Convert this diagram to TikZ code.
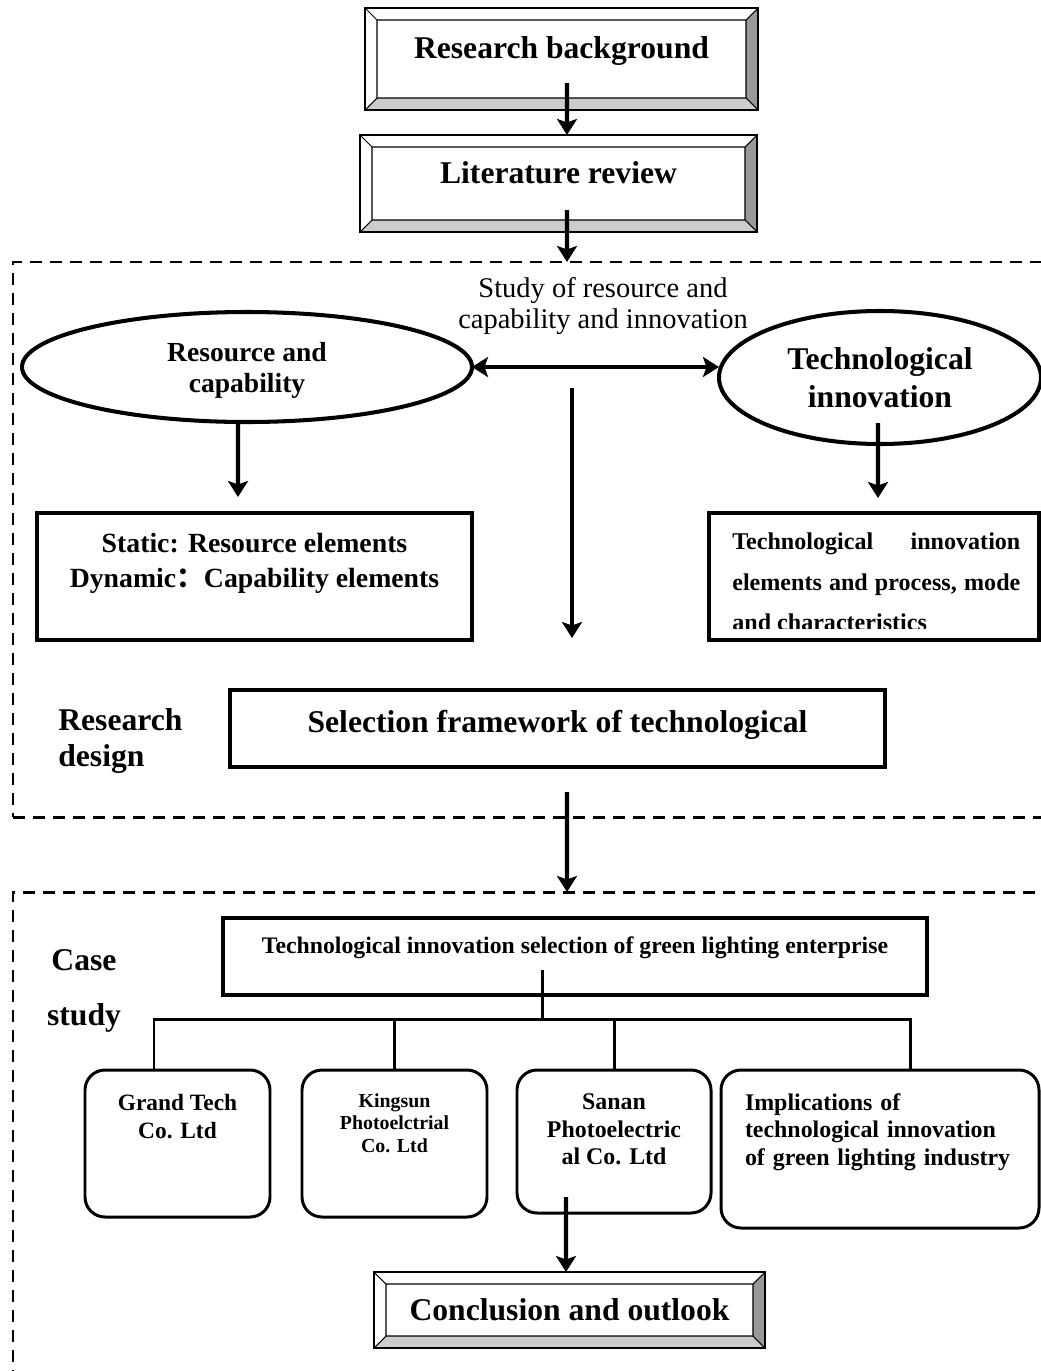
\documentclass[tikz,border=0pt]{standalone}
\usepackage{fontspec}
\setmainfont{Liberation Serif}
\newfontfamily\cjk{Noto Sans CJK SC}
\usepackage{tikz}
\usetikzlibrary{arrows.meta,positioning,shapes.geometric}

\definecolor{bevdark}{HTML}{999999}
\definecolor{bevlight}{HTML}{CCCCCC}
\newcommand{\bevw}{0.24}
\newcommand{\bevelparts}[1]{%
  \fill[bevdark] (#1.north east) -- (#1.south east) -- ([shift={(-\bevw,\bevw)}]#1.south east) -- ([shift={(-\bevw,-\bevw)}]#1.north east) -- cycle;
  \fill[bevlight] (#1.south east) -- (#1.south west) -- ([shift={(\bevw,\bevw)}]#1.south west) -- ([shift={(-\bevw,\bevw)}]#1.south east) -- cycle;
  \draw[line width=0.6pt] ([shift={(\bevw,-\bevw)}]#1.north west) rectangle ([shift={(-\bevw,\bevw)}]#1.south east)
    (#1.north west) -- ++(\bevw,-\bevw) (#1.north east) -- ++(-\bevw,-\bevw)
    (#1.south east) -- ++(-\bevw,\bevw) (#1.south west) -- ++(\bevw,\bevw);
  \draw[line width=1.1pt] (#1.north west) rectangle (#1.south east);
}

\begin{document}
\begin{tikzpicture}[
  bevel/.style={draw, line width=1.1pt, outer sep=0pt, font=\bfseries\fontsize{18}{21.5}\selectfont},
  dashframe/.style={draw, line width=1.7pt, dash pattern=on 0.24cm off 0.16cm, outer sep=0pt},
  box/.style={draw, line width=2pt, outer sep=0pt, align=center},
  oval/.style={ellipse, draw, line width=2.3pt, outer sep=0pt, align=center},
  rbox/.style={draw, line width=1.7pt, rounded corners=0.4cm, outer sep=0pt, align=center},
  lab/.style={inner sep=0pt, align=center},
  arr/.style={-{Stealth[length=0.32cm,width=0.4cm,inset=0.07cm]}, line width=2.3pt},
  arr2/.style={{Stealth[length=0.32cm,width=0.4cm,inset=0.07cm]}-{Stealth[length=0.32cm,width=0.4cm,inset=0.07cm]}, line width=2.3pt},
  treeline/.style={line width=1.7pt}
]
\useasboundingbox (0,0) rectangle (20.8,-27.42);

\node[dashframe, minimum width=21.74cm, minimum height=11.1cm] at (11.13,-10.79) (design) {};
\node[dashframe, minimum width=21.74cm, minimum height=10.56cm] at (11.13,-23.12) (case) {};

\node[bevel, minimum width=7.86cm, minimum height=2.04cm, text depth=0.46cm] at (11.23,-1.18) (bg) {Research background};
\bevelparts{bg}
\node[bevel, minimum width=7.94cm, minimum height=1.94cm, text depth=0.44cm] at (11.17,-3.67) (lit) {Literature review};
\bevelparts{lit}

\node[lab, font=\fontsize{16.2}{17.9}\selectfont] at (12.06,-6.12) (study) {Study of resource and\\capability and innovation};
\node[oval, minimum width=9cm, minimum height=2.2cm, text depth=0pt, font=\bfseries\fontsize{15.7}{17.6}\selectfont] at (4.94,-7.34) (res) {Resource and\\capability};
\node[oval, minimum width=6.44cm, minimum height=2.66cm, font=\bfseries\fontsize{18}{21.6}\selectfont] at (17.6,-7.55) (tin) {Technological\\innovation};

\node[box, minimum width=8.7cm, minimum height=2.54cm, text depth=0.66cm, font=\bfseries\fontsize{15.8}{19.9}\selectfont] at (5.09,-11.53) (stat) {Static: Resource elements\\Dynamic{\cjk ：}Capability elements};
\node[box, minimum width=6.6cm, minimum height=2.54cm] at (17.48,-11.53) (tie) {};
\begin{scope}
  \clip (tie.north west) rectangle ([yshift=0.24cm]tie.south east);
  \node[lab, anchor=north west, text width=5.76cm, align=justify, font=\bfseries\fontsize{13.7}{23.3}\selectfont] at ([xshift=0.46cm,yshift=-0.38cm]tie.north west) (tietext) {Technological innovation\linebreak elements and process, mode\linebreak and characteristics};
\end{scope}

\node[box, minimum width=13.1cm, minimum height=1.54cm, text depth=0.28cm, font=\bfseries\fontsize{18}{21.5}\selectfont] at (11.15,-14.57) (sel) {Selection framework of technological};
\node[lab, anchor=west, align=left, font=\bfseries\fontsize{18}{20.5}\selectfont] at (1.16,-14.82) (rd) {Research\\design};

\node[lab, font=\bfseries\fontsize{18}{31.3}\selectfont] at (1.68,-19.81) (cs) {Case\\study};
\node[box, minimum width=14.08cm, minimum height=1.54cm, text depth=0.46cm, font=\bfseries\fontsize{13.5}{15.7}\selectfont] at (11.5,-19.13) (tsel) {Technological innovation selection of green lighting enterprise};

\node[rbox, minimum width=3.7cm, minimum height=2.94cm, text depth=1.1cm, font=\bfseries\fontsize{13.3}{15.9}\selectfont] at (3.55,-22.87) (grand) {Grand Tech\\Co. Ltd};
\node[rbox, minimum width=3.7cm, minimum height=2.94cm, text depth=0.83cm, font=\bfseries\fontsize{11.3}{12.8}\selectfont] at (7.89,-22.87) (king) {Kingsun\\Photoelctrial\\Co. Ltd};
\node[rbox, minimum width=3.88cm, minimum height=2.86cm, text depth=0.49cm, font=\bfseries\fontsize{13.6}{15.6}\selectfont] at (12.28,-22.83) (sanan) {Sanan\\Photoelectric\\al Co. Ltd};
\node[rbox, minimum width=6.36cm, minimum height=3.16cm, text width=5.4cm, inner xsep=0.48cm, align=left, text depth=1.88cm, font=\bfseries\fontsize{13.6}{15.6}\selectfont] at (17.6,-22.98) (impl) {Implications of\\technological innovation\\of green lighting industry};

\node[bevel, minimum width=7.82cm, minimum height=1.52cm] at (11.39,-26.2) (conc) {Conclusion and outlook};
\bevelparts{conc}

\draw[arr] ([xshift=0.11cm,yshift=0.54cm]bg.south) -- ([xshift=0.17cm]lit.north);
\draw[arr] ([xshift=0.17cm,yshift=0.44cm]lit.south) -- ([xshift=0.21cm]design.north);
\draw[arr2] (res.east) -- (res.east -| tin.west);
\draw[arr] ([xshift=-0.18cm]res.south) -- ([xshift=-0.33cm,yshift=0.32cm]stat.north);
\draw[arr] ([xshift=-0.04cm,yshift=0.42cm]tin.south) -- ([xshift=0.08cm,yshift=0.3cm]tie.north);
\coordinate (splitfrom) at (11.44,-7.76);
\coordinate (splitto) at (11.44,-12.76);
\draw[arr] (splitfrom) -- (splitto);
\draw[arr] ([xshift=0.19cm,yshift=-0.5cm]sel.south) -- ([xshift=0.21cm]case.north);

\coordinate (hub) at (10.84,-20.38);
\draw[treeline] ([xshift=-0.66cm,yshift=0.5cm]tsel.south) -- (hub);
\draw[treeline] ([xshift=-0.47cm]grand.north) |- (hub) -| ([xshift=0.6cm]impl.north);
\draw[treeline] (king.north) -- (king.north |- hub);
\draw[treeline] (sanan.north) -- (sanan.north |- hub);
\draw[arr] ([xshift=-0.96cm,yshift=0.32cm]sanan.south) -- ([xshift=-0.07cm]conc.north);
\end{tikzpicture}
\end{document}
